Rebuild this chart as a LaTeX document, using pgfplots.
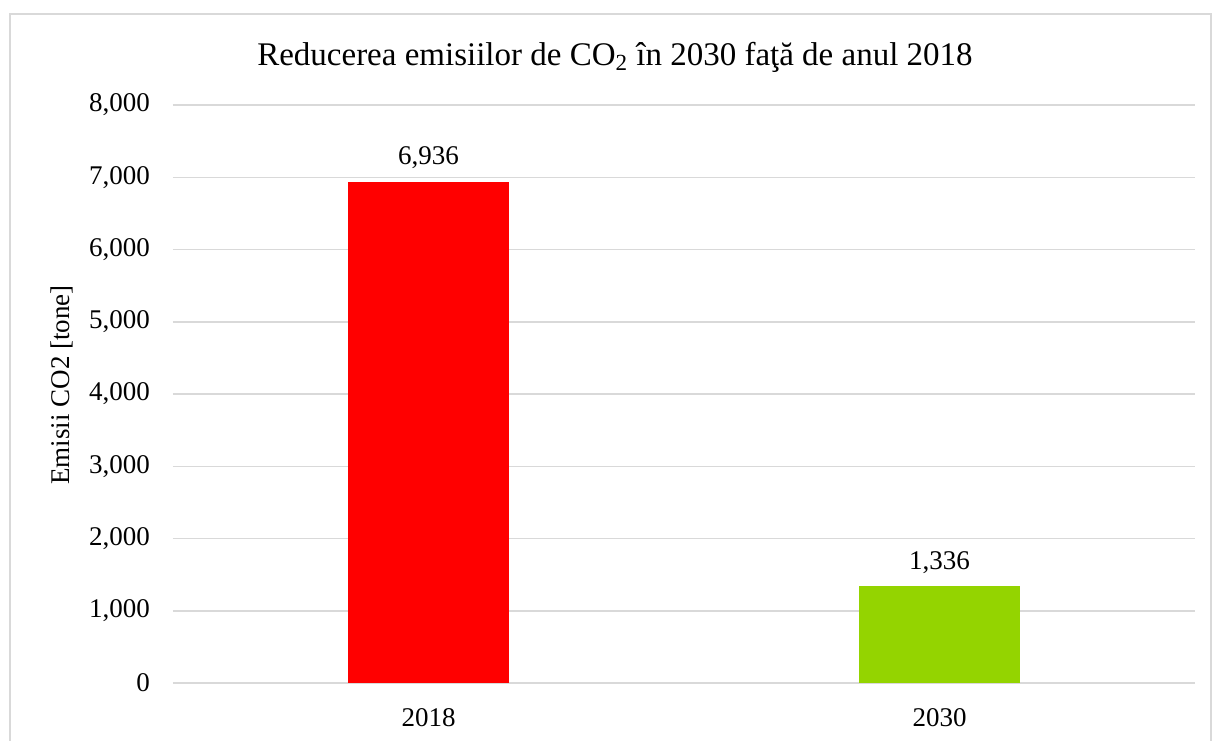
\documentclass[border=0pt]{standalone}
\usepackage{pgfplots}
\pgfplotsset{compat=1.18}
\usepackage{fontspec}
\setmainfont{Liberation Serif}
\definecolor{barred}{RGB}{255,0,0}
\definecolor{bargreen}{RGB}{148,212,0}
\definecolor{gridgray}{RGB}{217,217,217}
\begin{document}
\begin{tikzpicture}
\useasboundingbox (-86.5pt,-28.5pt) rectangle (520pt,341.5pt);
\draw[gridgray,line width=0.6pt] (-81.5pt,-40pt) -- (-81.5pt,334.5pt) -- (519pt,334.5pt) -- (519pt,-40pt);
\begin{axis}[
    at={(0,0)}, anchor=south west,
    scale only axis,
    width=511pt, height=289pt,
    xmin=-0.5, xmax=1.5,
    ymin=0, ymax=8000,
    ytick={0,1000,...,8000},
    xtick={0,1},
    xticklabels={2018,2030},
    axis line style={draw=none},
    major tick length=0pt,
    ymajorgrids,
    grid style={gridgray,line width=0.75pt},
    ybar, bar width=80.5pt, bar shift=0pt,
    /pgf/number format/.cd, 1000 sep={,}, assume math mode=true,
    /pgfplots/.cd,
    ticklabel style={font=\fontsize{13.5}{15}\selectfont},
    yticklabel style={xshift=-8pt},
    xticklabel style={yshift=-9pt},
    nodes near coords,
    nodes near coords style={font=\fontsize{13.5}{15}\selectfont, yshift=3pt},
    ylabel={Emisii CO2 [tone]},
    every axis y label/.style={at={(-55.5pt,149pt)}, rotate=90, anchor=center, font=\fontsize{13.5}{15}\selectfont},
    title={Reducerea emisiilor de CO\textsubscript{2} în 2030 faţă de anul 2018},
    every axis title/.style={at={(221pt,313pt)}, anchor=center, font=\fontsize{16.5}{19}\selectfont},
  ]
  \addplot[fill=barred, draw=none] coordinates {(0,6936)};
  \addplot[fill=bargreen, draw=none] coordinates {(1,1336)};
\end{axis}
\end{tikzpicture}
\end{document}
